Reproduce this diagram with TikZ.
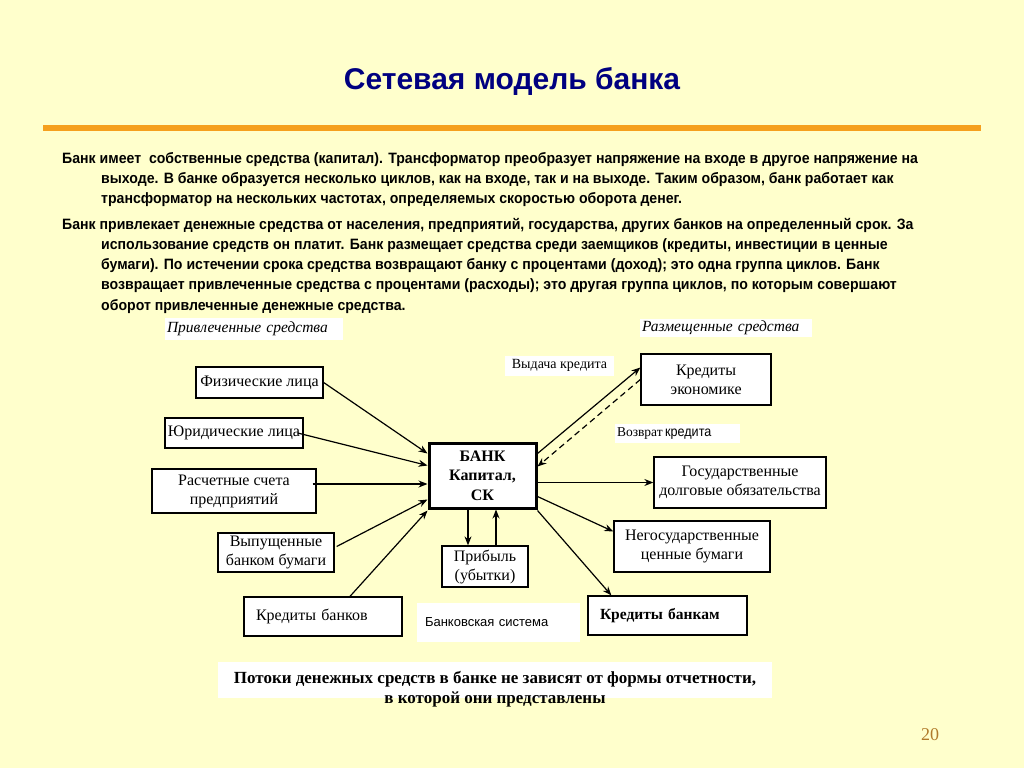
\documentclass[tikz,border=0pt]{standalone}
\usepackage{fontspec}
\setmainfont{Liberation Serif}
\newfontfamily\arialf{Liberation Sans}
\newfontfamily\narrowf[FakeStretch=0.94]{Liberation Sans}
\newfontfamily\cnarrowf[FakeStretch=0.9]{Liberation Sans}
\usetikzlibrary{arrows.meta,calc}
\definecolor{bgc}{RGB}{255,255,204}
\definecolor{titlec}{RGB}{0,0,128}
\definecolor{rulec}{RGB}{245,160,30}
\definecolor{numc}{RGB}{176,122,42}
\begin{document}
\begin{tikzpicture}[x=1pt,y=-1pt,
  box/.style={draw, line width=1.3pt, fill=white, inner sep=0pt, align=center,
    font=\fontsize{16}{19}\selectfont},
  bankbox/.style={box, line width=3pt, font=\bfseries\fontsize{16}{19.5}\selectfont},
  arr/.style={-{Stealth[length=9pt,width=7pt]}, line width=1.2pt},
  lbl/.style={fill=white, inner sep=0pt},
  body/.style={anchor=base west, inner sep=0pt, font=\narrowf\bfseries\fontsize{15}{20}\selectfont}
]
\useasboundingbox (0,0) rectangle (1024,768);
\fill[bgc] (0,0) rectangle (1024,768);

% title and rule
\node[font=\arialf\bfseries\fontsize{30}{36}\selectfont, text=titlec] (title) at (512,81) {Сетевая модель банка};
\draw[rulec, line width=6pt] (43,128) -- (981,128);

% body text
\node[body] (t1) at (62,163) {Банк имеет~ собственные средства (капитал). Трансформатор преобразует напряжение на входе в другое напряжение на};
\node[body] (t2) at (101,183) {выходе. В банке образуется несколько циклов, как на входе, так и на выходе. Таким образом, банк работает как};
\node[body] (t3) at (101,203) {трансформатор на нескольких частотах, определяемых скоростью оборота денег.};
\node[body] (t4) at (62,229) {Банк привлекает денежные средства от населения, предприятий, государства, других банков на определенный срок. За};
\node[body] (t5) at (101,249) {использование средств он платит. Банк размещает средства среди заемщиков (кредиты, инвестиции в ценные};
\node[body] (t6) at (101,269) {бумаги). По истечении срока средства возвращают банку с процентами (доход); это одна группа циклов. Банк};
\node[body] (t7) at (101,289) {возвращает привлеченные средства с процентами (расходы); это другая группа циклов, по которым совершают};
\node[body] (t8) at (101,310) {оборот привлеченные денежные средства.};

% section labels
\node[lbl, minimum width=178pt, minimum height=22pt, text width=174pt, align=left, inner xsep=2pt,
  font=\itshape\fontsize{15.5}{17}\selectfont] (priv) at (254,329) {Привлеченные средства};
\node[lbl, minimum width=172pt, minimum height=18pt, text width=168pt, align=left, inner xsep=2pt,
  font=\itshape\fontsize{15.5}{17}\selectfont] (razm) at (726,328) {Размещенные средства};

% left boxes
\node[box, minimum width=127pt, minimum height=31pt] (fiz) at (259.5,382.5) {Физические лица};
\node[box, minimum width=138pt, minimum height=30pt] (yur) at (234,433) {Юридические лица};
\node[box, minimum width=164pt, minimum height=44pt] (ras) at (234,491) {Расчетные счета\\предприятий};
\node[box, minimum width=116pt, minimum height=39pt] (vyp) at (276,552.5) {Выпущенные\\банком бумаги};
\node[box, minimum width=158pt, minimum height=39pt, text width=134pt, inner xsep=12pt, align=left] (kredb) at (323,616.5) {Кредиты банков};

% bank
\node[bankbox, minimum width=107pt, minimum height=65pt] (bank) at (482.5,475.5) {БАНК\\Капитал,\\СК};
\node[box, minimum width=86pt, minimum height=41pt] (prib) at (485,566.5) {Прибыль\\(убытки)};
\node[lbl, minimum width=163pt, minimum height=39pt, text width=155pt, inner xsep=4pt, align=left,
  font=\arialf\fontsize{13}{15}\selectfont] (bsys) at (498.5,622.5) {\hspace{4pt}Банковская система};

% right boxes
\node[box, minimum width=130pt, minimum height=51pt] (ke) at (706,379.5) {Кредиты\\экономике};
\node[box, minimum width=172pt, minimum height=51pt] (gos) at (740,482.5) {Государственные\\долговые обязательства};
\node[box, minimum width=156pt, minimum height=51pt] (neg) at (692,546.5) {Негосударственные\\ценные бумаги};
\node[box, minimum width=159pt, minimum height=39pt, text width=135pt, inner xsep=12pt, align=left,
  font=\bfseries\fontsize{15.5}{19}\selectfont] (kb) at (667.5,615.5) {Кредиты банкам};

% credit labels
\node[lbl, minimum width=109pt, minimum height=20pt, font=\fontsize{14}{16}\selectfont] (vyd) at (559.5,365.5) {Выдача кредита};
\node[lbl, minimum width=125pt, minimum height=19pt, text width=121pt, inner xsep=2pt, align=left,
  font=\fontsize{13.5}{15}\selectfont] (vozv) at (677.5,433.5) {Возврат{\cnarrowf\fontsize{14}{15}\selectfont\,кредита}};

% note
\node[lbl, minimum width=554pt, minimum height=36pt] (notebg) at (495,680) {};
\node[inner sep=0pt, align=center, font=\bfseries\fontsize{17}{20}\selectfont] (note) at (495,689)
  {Потоки денежных средств в банке не зависят от формы отчетности,\\в которой они представлены};

% page number
\node[text=numc, font=\fontsize{18}{20}\selectfont] (pnum) at (930,735) {20};

% incoming arrows
\draw[arr] (fiz.east) -- ([yshift=-12pt]bank.north west);
\draw[arr] ([xshift=-6pt]yur.east) -- ([yshift=-24pt]bank.north west);
\coordinate (rasout) at ([xshift=-4pt,yshift=7pt]ras.east);
\draw[arr] (rasout) -- (rasout -| bank.west);
\draw[arr] ([xshift=2pt,yshift=6pt]vyp.east) -- ([yshift=10pt]bank.south west);
\draw[arr] ([xshift=27pt]kredb.north) -- ([yshift=-1pt]bank.south west);

% profit arrows
\coordinate (pd) at ([xshift=-14.5pt]bank.south);
\draw[arr] (pd) -- (pd |- prib.north);
\coordinate (pu) at ([xshift=11pt]prib.north);
\draw[arr] (pu) -- (pu |- bank.south);

% outgoing arrows
\draw[arr] (gos.west -| bank.east) -- (gos.west);
\draw[arr] ([yshift=-21pt]bank.east) -- ([yshift=15pt]neg.west);
\draw[arr] ([yshift=-1pt]bank.south east) -- ([xshift=24pt]kb.north west);
\draw[arr] ([yshift=-12pt]bank.north east) -- ([yshift=12pt]ke.west);
\draw[arr, dashed, dash pattern=on 6pt off 4pt] (ke.west) -- ([yshift=9pt]bank.east);
\end{tikzpicture}
\end{document}
